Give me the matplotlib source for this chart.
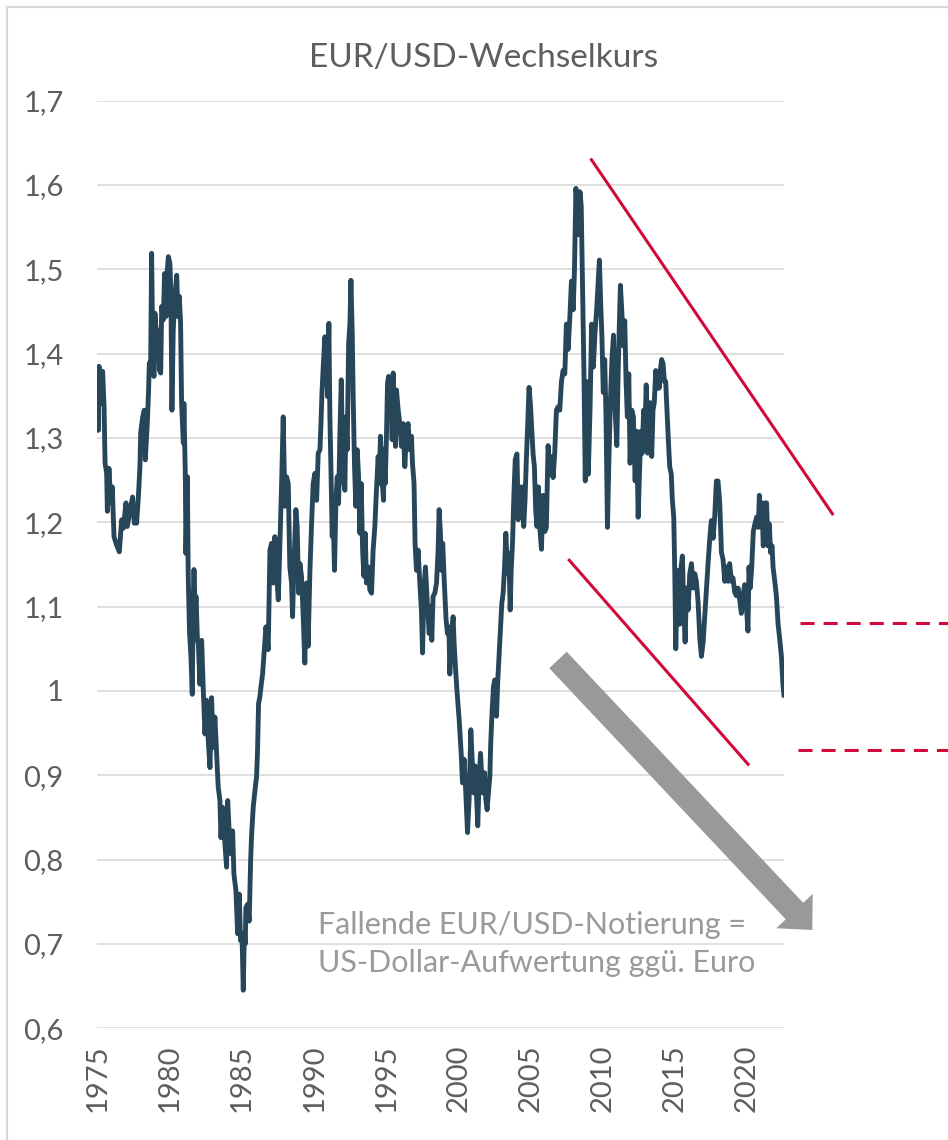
import matplotlib
matplotlib.use("Agg")
import matplotlib.pyplot as plt
from matplotlib.patches import FancyArrow
from matplotlib.lines import Line2D
from matplotlib.ticker import FuncFormatter

# EUR/USD exchange rate (decimal years)
years = [
    1975.00, 1975.02, 1975.07, 1975.18, 1975.32, 1975.42, 1975.49, 1975.60, 1975.65, 1975.76,
    1975.88, 1975.99, 1976.11, 1976.29, 1976.48, 1976.64, 1976.76, 1976.94, 1977.03, 1977.22,
    1977.40, 1977.52, 1977.68, 1977.80, 1977.91, 1977.96, 1978.10, 1978.21, 1978.28, 1978.42,
    1978.51, 1978.56, 1978.65, 1978.72, 1978.79, 1978.88, 1978.95, 1979.07, 1979.18, 1979.25,
    1979.35, 1979.42, 1979.53, 1979.62, 1979.72, 1979.81, 1979.88, 1979.99, 1980.06, 1980.13,
    1980.22, 1980.34, 1980.46, 1980.55, 1980.64, 1980.73, 1980.80, 1980.92, 1980.96, 1981.06,
    1981.10, 1981.20, 1981.26, 1981.35, 1981.45, 1981.54, 1981.60, 1981.66, 1981.75, 1981.80,
    1981.90, 1981.96, 1982.07, 1982.19, 1982.30, 1982.42, 1982.53, 1982.65, 1982.77, 1982.88,
    1983.00, 1983.11, 1983.23, 1983.34, 1983.46, 1983.53, 1983.65, 1983.76, 1983.92, 1984.00,
    1984.11, 1984.22, 1984.34, 1984.43, 1984.57, 1984.69, 1984.80, 1984.89, 1984.99, 1985.08,
    1985.15, 1985.22, 1985.26, 1985.38, 1985.49, 1985.59, 1985.66, 1985.77, 1985.89, 1986.00,
    1986.07, 1986.14, 1986.23, 1986.33, 1986.42, 1986.50, 1986.65, 1986.81, 1986.93, 1987.04,
    1987.16, 1987.27, 1987.39, 1987.51, 1987.62, 1987.74, 1987.85, 1987.97, 1988.08, 1988.20,
    1988.31, 1988.43, 1988.50, 1988.59, 1988.73, 1988.82, 1988.92, 1989.01, 1989.12, 1989.24,
    1989.35, 1989.47, 1989.58, 1989.70, 1989.82, 1989.93, 1990.05, 1990.17, 1990.28, 1990.40,
    1990.47, 1990.54, 1990.63, 1990.74, 1990.86, 1990.93, 1991.02, 1991.09, 1991.16, 1991.25,
    1991.32, 1991.41, 1991.51, 1991.60, 1991.69, 1991.79, 1991.88, 1991.97, 1992.06, 1992.13,
    1992.20, 1992.29, 1992.39, 1992.48, 1992.55, 1992.64, 1992.71, 1992.80, 1992.89, 1992.99,
    1993.08, 1993.17, 1993.26, 1993.36, 1993.45, 1993.54, 1993.63, 1993.75, 1993.86, 1993.98,
    1994.09, 1994.21, 1994.32, 1994.44, 1994.51, 1994.60, 1994.70, 1994.81, 1994.86, 1994.93,
    1995.02, 1995.09, 1995.16, 1995.25, 1995.32, 1995.41, 1995.48, 1995.58, 1995.64, 1995.71,
    1995.83, 1995.94, 1996.06, 1996.18, 1996.29, 1996.41, 1996.52, 1996.63, 1996.75, 1996.82,
    1996.93, 1997.00, 1997.10, 1997.21, 1997.33, 1997.44, 1997.52, 1997.61, 1997.72, 1997.84,
    1997.98, 1998.07, 1998.16, 1998.25, 1998.37, 1998.49, 1998.60, 1998.67, 1998.76, 1998.83,
    1998.92, 1999.03, 1999.15, 1999.25, 1999.35, 1999.41, 1999.53, 1999.64, 1999.71, 1999.80,
    1999.92, 2000.06, 2000.20, 2000.29, 2000.40, 2000.52, 2000.64, 2000.75, 2000.87, 2000.96,
    2001.08, 2001.17, 2001.26, 2001.35, 2001.45, 2001.54, 2001.63, 2001.72, 2001.82, 2001.91,
    2002.00, 2002.09, 2002.19, 2002.25, 2002.35, 2002.44, 2002.53, 2002.65, 2002.74, 2002.84,
    2002.93, 2003.02, 2003.11, 2003.21, 2003.30, 2003.42, 2003.51, 2003.60, 2003.67, 2003.77,
    2003.86, 2003.95, 2004.07, 2004.16, 2004.26, 2004.35, 2004.44, 2004.54, 2004.63, 2004.72,
    2004.81, 2004.91, 2005.00, 2005.09, 2005.19, 2005.28, 2005.37, 2005.46, 2005.56, 2005.65,
    2005.77, 2005.88, 2006.00, 2006.11, 2006.23, 2006.34, 2006.46, 2006.58, 2006.69, 2006.81,
    2006.93, 2007.04, 2007.16, 2007.27, 2007.39, 2007.50, 2007.62, 2007.74, 2007.85, 2007.97,
    2008.06, 2008.16, 2008.25, 2008.34, 2008.44, 2008.53, 2008.62, 2008.72, 2008.81, 2008.90,
    2009.02, 2009.14, 2009.25, 2009.37, 2009.49, 2009.60, 2009.72, 2009.79, 2009.88, 2009.97,
    2010.06, 2010.16, 2010.25, 2010.35, 2010.44, 2010.55, 2010.66, 2010.77, 2010.88, 2011.00,
    2011.09, 2011.18, 2011.25, 2011.34, 2011.46, 2011.55, 2011.64, 2011.73, 2011.83, 2011.92,
    2012.04, 2012.15, 2012.27, 2012.38, 2012.48, 2012.57, 2012.67, 2012.76, 2012.86, 2012.95,
    2013.04, 2013.14, 2013.23, 2013.30, 2013.42, 2013.51, 2013.60, 2013.70, 2013.79, 2013.88,
    2013.93, 2014.02, 2014.11, 2014.21, 2014.30, 2014.39, 2014.48, 2014.57, 2014.67, 2014.78,
    2014.85, 2014.95, 2015.02, 2015.09, 2015.18, 2015.27, 2015.36, 2015.46, 2015.55, 2015.64,
    2015.74, 2015.83, 2015.95, 2016.06, 2016.18, 2016.29, 2016.41, 2016.52, 2016.64, 2016.76,
    2016.87, 2016.99, 2017.10, 2017.22, 2017.33, 2017.45, 2017.56, 2017.68, 2017.79, 2017.91,
    2018.02, 2018.14, 2018.26, 2018.37, 2018.49, 2018.60, 2018.72, 2018.83, 2018.95, 2019.06,
    2019.18, 2019.29, 2019.41, 2019.52, 2019.64, 2019.75, 2019.87, 2019.99, 2020.10, 2020.17,
    2020.26, 2020.36, 2020.47, 2020.58, 2020.70, 2020.82, 2020.89, 2020.98, 2021.07, 2021.16,
    2021.28, 2021.39, 2021.49, 2021.58, 2021.67, 2021.77, 2021.84, 2021.96, 2022.07, 2022.19,
    2022.30, 2022.42, 2022.53, 2022.60,
]
rates = [
    1.361, 1.309, 1.385, 1.341, 1.379, 1.337, 1.270, 1.258, 1.213, 1.264,
    1.223, 1.242, 1.183, 1.173, 1.165, 1.203, 1.193, 1.223, 1.195, 1.213,
    1.230, 1.199, 1.199, 1.230, 1.266, 1.306, 1.325, 1.333, 1.274, 1.317,
    1.357, 1.389, 1.381, 1.519, 1.416, 1.373, 1.448, 1.416, 1.428, 1.381,
    1.377, 1.456, 1.440, 1.495, 1.444, 1.499, 1.515, 1.507, 1.468, 1.333,
    1.428, 1.468, 1.493, 1.444, 1.468, 1.436, 1.341, 1.294, 1.341, 1.254,
    1.163, 1.254, 1.136, 1.070, 1.040, 0.996, 1.100, 1.144, 1.090, 1.112,
    1.060, 1.056, 1.008, 1.060, 1.004, 0.949, 0.989, 0.941, 0.909, 0.992,
    0.933, 0.969, 0.925, 0.886, 0.870, 0.826, 0.862, 0.830, 0.791, 0.870,
    0.830, 0.807, 0.834, 0.783, 0.763, 0.712, 0.759, 0.704, 0.712, 0.645,
    0.712, 0.700, 0.743, 0.747, 0.727, 0.799, 0.830, 0.862, 0.882, 0.898,
    0.929, 0.985, 0.993, 1.008, 1.020, 1.040, 1.076, 1.049, 1.167, 1.175,
    1.128, 1.183, 1.140, 1.108, 1.175, 1.246, 1.325, 1.219, 1.254, 1.246,
    1.147, 1.128, 1.088, 1.147, 1.215, 1.195, 1.116, 1.151, 1.136, 1.088,
    1.033, 1.128, 1.053, 1.140, 1.199, 1.246, 1.258, 1.226, 1.282, 1.286,
    1.317, 1.353, 1.385, 1.420, 1.392, 1.349, 1.436, 1.325, 1.266, 1.183,
    1.207, 1.143, 1.226, 1.254, 1.222, 1.309, 1.369, 1.278, 1.246, 1.238,
    1.325, 1.286, 1.412, 1.436, 1.487, 1.424, 1.345, 1.266, 1.219, 1.286,
    1.254, 1.187, 1.246, 1.167, 1.136, 1.187, 1.128, 1.147, 1.120, 1.116,
    1.167, 1.195, 1.238, 1.278, 1.246, 1.302, 1.254, 1.226, 1.286, 1.246,
    1.306, 1.365, 1.373, 1.333, 1.365, 1.298, 1.377, 1.317, 1.290, 1.357,
    1.333, 1.317, 1.290, 1.317, 1.266, 1.309, 1.317, 1.286, 1.302, 1.270,
    1.246, 1.175, 1.143, 1.167, 1.128, 1.096, 1.045, 1.120, 1.147, 1.108,
    1.068, 1.100, 1.060, 1.112, 1.116, 1.128, 1.167, 1.215, 1.187, 1.143,
    1.175, 1.128, 1.085, 1.068, 1.076, 1.020, 1.065, 1.088, 1.057, 1.029,
    0.997, 0.966, 0.926, 0.891, 0.919, 0.879, 0.832, 0.871, 0.954, 0.919,
    0.879, 0.911, 0.879, 0.840, 0.895, 0.926, 0.899, 0.879, 0.903, 0.871,
    0.859, 0.879, 0.899, 0.938, 0.978, 1.005, 1.013, 0.970, 1.013, 1.045,
    1.076, 1.104, 1.116, 1.147, 1.187, 1.139, 1.163, 1.096, 1.143, 1.179,
    1.234, 1.274, 1.281, 1.203, 1.242, 1.218, 1.242, 1.195, 1.226, 1.274,
    1.313, 1.360, 1.341, 1.313, 1.281, 1.266, 1.214, 1.195, 1.242, 1.195,
    1.168, 1.232, 1.189, 1.194, 1.291, 1.257, 1.278, 1.253, 1.282, 1.333,
    1.337, 1.333, 1.367, 1.380, 1.376, 1.435, 1.405, 1.443, 1.486, 1.452,
    1.498, 1.596, 1.575, 1.541, 1.592, 1.575, 1.481, 1.376, 1.249, 1.367,
    1.257, 1.333, 1.435, 1.384, 1.426, 1.452, 1.490, 1.511, 1.460, 1.418,
    1.354, 1.393, 1.325, 1.194, 1.266, 1.342, 1.393, 1.422, 1.333, 1.291,
    1.376, 1.439, 1.481, 1.452, 1.409, 1.439, 1.367, 1.325, 1.376, 1.270,
    1.333, 1.325, 1.249, 1.308, 1.206, 1.257, 1.308, 1.282, 1.333, 1.308,
    1.363, 1.282, 1.316, 1.342, 1.278, 1.333, 1.342, 1.380, 1.359, 1.376,
    1.359, 1.380, 1.393, 1.388, 1.367, 1.367, 1.333, 1.299, 1.266, 1.257,
    1.227, 1.206, 1.143, 1.050, 1.122, 1.143, 1.079, 1.147, 1.160, 1.100,
    1.058, 1.122, 1.096, 1.139, 1.151, 1.122, 1.139, 1.130, 1.105, 1.062,
    1.041, 1.058, 1.088, 1.122, 1.151, 1.181, 1.202, 1.181, 1.206, 1.249,
    1.249, 1.223, 1.164, 1.156, 1.130, 1.147, 1.130, 1.151, 1.130, 1.134,
    1.117, 1.113, 1.122, 1.109, 1.092, 1.113, 1.126, 1.100, 1.071, 1.147,
    1.122, 1.147, 1.189, 1.198, 1.206, 1.194, 1.232, 1.206, 1.223, 1.172,
    1.223, 1.223, 1.172, 1.198, 1.164, 1.172, 1.147, 1.130, 1.113, 1.079,
    1.062, 1.041, 1.007, 0.995,
]

year_ticks = [1975, 1980, 1985, 1990, 1995, 2000, 2005, 2010, 2015, 2020]
rate_ticks = [0.6, 0.7, 0.8, 0.9, 1.0, 1.1, 1.2, 1.3, 1.4, 1.5, 1.6, 1.7]

# hand-drawn trend channel and support band
upper_trend_x = [2009.24, 2025.96]
upper_trend_y = [1.630, 1.210]
lower_trend_x = [2007.70, 2020.11]
lower_trend_y = [1.155, 0.913]
band_levels = [1.08, 0.93]

line_color = "#27465A"
red = "#D20A3C"
text_grey = "#5E5E5E"

plt.rcParams['font.family'] = ['Lato', 'DejaVu Sans']

W, H = 948, 1140
fig = plt.figure(figsize=(W / 100, H / 100), dpi=100)
ax = fig.add_axes([97 / W, 1 - 1028.2 / H, (784 - 97) / W, (1028.2 - 100.7) / H])

ax.plot(years, rates, color=line_color, lw=3.5, solid_joinstyle='round', zorder=3)

ax.set_xlim(1974.93, 2022.6)
ax.set_ylim(0.6, 1.7)
ax.set_yticks(rate_ticks)
ax.set_xticks(year_ticks)
ax.yaxis.set_major_formatter(FuncFormatter(
    lambda v, p: f"{v:.1f}".rstrip('0').rstrip('.').replace('.', ',')))
ax.tick_params(axis='y', length=0, labelsize=21, labelcolor=text_grey, pad=24)
ax.tick_params(axis='x', length=0, labelsize=21, labelcolor=text_grey, pad=12,
               labelrotation=90)

ax.grid(axis='y', color='#D9D9D9', lw=1.2, zorder=0)
ax.grid(axis='x', visible=False)
for s in ax.spines.values():
    s.set_visible(False)

# trend lines
ax.plot(upper_trend_x, upper_trend_y, color=red, lw=2.2, clip_on=False, zorder=4)
ax.plot(lower_trend_x, lower_trend_y, color=red, lw=2.2, clip_on=False, zorder=4)
for lvl, x0 in zip(band_levels, [2023.72, 2023.60]):
    ax.plot([x0, 2034.5], [lvl, lvl], color=red, lw=2.2, ls=(0, (4.6, 2.95)),
            clip_on=False, zorder=4)

# big grey arrow
fig.add_artist(FancyArrow(5.58, 4.80, 2.543, -2.70, width=0.24, head_width=0.50,
                          head_length=0.26, length_includes_head=True,
                          color='#999999', lw=0, transform=fig.dpi_scale_trans))

# title and note
fig.text(483.5 / W, 1 - 67.3 / H, "EUR/USD-Wechselkurs", ha='center', va='baseline',
         fontsize=24, color=text_grey)
fig.text(318 / W, 1 - 933.6 / H, "Fallende EUR/USD-Notierung =", ha='left',
         va='baseline', fontsize=22, color='#9A9A9A')
fig.text(318 / W, 1 - 971.8 / H, "US-Dollar-Aufwertung ggü. Euro", ha='left',
         va='baseline', fontsize=22, color='#9A9A9A')

# light outer frame (only left and top edges are visible)
fig.add_artist(Line2D([7.3 / W, 7.3 / W], [0, 1 - 6.5 / H], color='#D9D9D9', lw=1.5))
fig.add_artist(Line2D([7.3 / W, 1], [1 - 6.5 / H, 1 - 6.5 / H], color='#D9D9D9', lw=1.5))

fig.savefig("out.png", dpi=100)
